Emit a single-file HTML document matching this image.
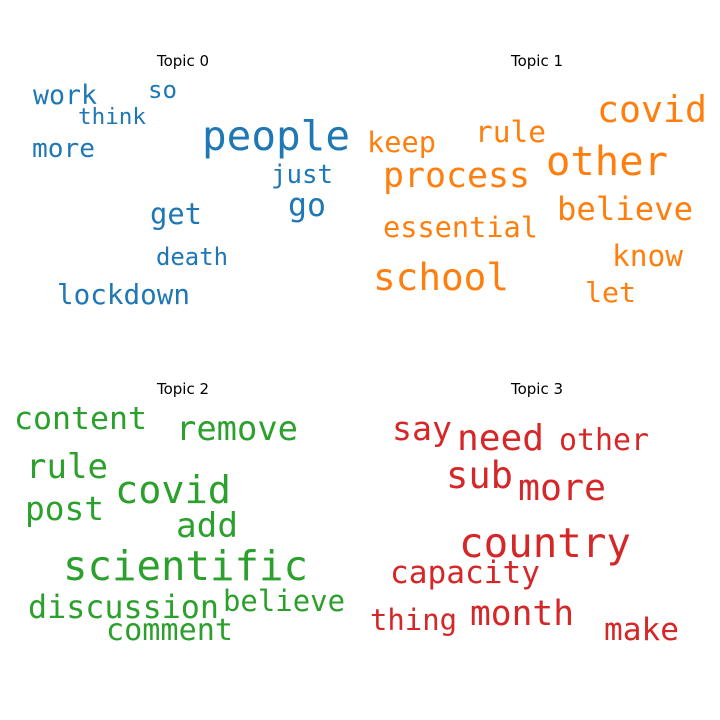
<!DOCTYPE html>
<html><head><meta charset="utf-8"><style>
html,body{margin:0;padding:0;background:#fff;}
svg{display:block;}
.w{font-family:"DejaVu Sans Mono","Liberation Mono",monospace;}
.t{font-family:"DejaVu Sans","Liberation Sans",sans-serif;font-size:15px;fill:#000;}
.b{fill:#1f77b4}.o{fill:#ff7f0e}.g{fill:#2ca02c}.r{fill:#d62728}
</style></head><body>
<svg width="720" height="720" viewBox="0 0 720 720" xmlns="http://www.w3.org/2000/svg">
<rect width="720" height="720" fill="#fff"/>
<text class="t" x="183" y="66" text-anchor="middle">Topic 0</text>
<text class="t" x="537" y="66" text-anchor="middle">Topic 1</text>
<text class="t" x="183" y="394" text-anchor="middle">Topic 2</text>
<text class="t" x="537" y="394" text-anchor="middle">Topic 3</text>
<g class="w">
<text class="b" x="202" y="150" font-size="41" textLength="148" lengthAdjust="spacingAndGlyphs">people</text>
<text class="b" x="33" y="104" font-size="26.5" textLength="64" lengthAdjust="spacingAndGlyphs">work</text>
<text class="b" x="148" y="98" font-size="24" textLength="29" lengthAdjust="spacingAndGlyphs">so</text>
<text class="b" x="78" y="124" font-size="22.6" textLength="68" lengthAdjust="spacingAndGlyphs">think</text>
<text class="b" x="32" y="157" font-size="26" textLength="63" lengthAdjust="spacingAndGlyphs">more</text>
<text class="b" x="271" y="183" font-size="26" textLength="62" lengthAdjust="spacingAndGlyphs">just</text>
<text class="b" x="288" y="216" font-size="32" textLength="38" lengthAdjust="spacingAndGlyphs">go</text>
<text class="b" x="150" y="224" font-size="29" textLength="52" lengthAdjust="spacingAndGlyphs">get</text>
<text class="b" x="156" y="265" font-size="24" textLength="72" lengthAdjust="spacingAndGlyphs">death</text>
<text class="b" x="57" y="304" font-size="27.6" textLength="133" lengthAdjust="spacingAndGlyphs">lockdown</text>

<text class="o" x="597" y="122" font-size="36.5" textLength="110" lengthAdjust="spacingAndGlyphs">covid</text>
<text class="o" x="367" y="152" font-size="28.6" textLength="69" lengthAdjust="spacingAndGlyphs">keep</text>
<text class="o" x="475" y="142" font-size="29.5" textLength="71" lengthAdjust="spacingAndGlyphs">rule</text>
<text class="o" x="546" y="175" font-size="40.5" textLength="122" lengthAdjust="spacingAndGlyphs">other</text>
<text class="o" x="383" y="187" font-size="35" textLength="147" lengthAdjust="spacingAndGlyphs">process</text>
<text class="o" x="557" y="220" font-size="32" textLength="136" lengthAdjust="spacingAndGlyphs">believe</text>
<text class="o" x="383" y="237" font-size="28.6" textLength="155" lengthAdjust="spacingAndGlyphs">essential</text>
<text class="o" x="612" y="266" font-size="29.5" textLength="71" lengthAdjust="spacingAndGlyphs">know</text>
<text class="o" x="373" y="290" font-size="37.6" textLength="136" lengthAdjust="spacingAndGlyphs">school</text>
<text class="o" x="585" y="302" font-size="28" textLength="51" lengthAdjust="spacingAndGlyphs">let</text>

<text class="g" x="14" y="429" font-size="31.5" textLength="133" lengthAdjust="spacingAndGlyphs">content</text>
<text class="g" x="176" y="440" font-size="33.8" textLength="122" lengthAdjust="spacingAndGlyphs">remove</text>
<text class="g" x="26" y="478" font-size="34" textLength="82" lengthAdjust="spacingAndGlyphs">rule</text>
<text class="g" x="115" y="503" font-size="38.5" textLength="116" lengthAdjust="spacingAndGlyphs">covid</text>
<text class="g" x="25" y="520" font-size="32.8" textLength="79" lengthAdjust="spacingAndGlyphs">post</text>
<text class="g" x="176" y="537" font-size="34" textLength="62" lengthAdjust="spacingAndGlyphs">add</text>
<text class="g" x="63" y="580" font-size="40.7" textLength="245" lengthAdjust="spacingAndGlyphs">scientific</text>
<text class="g" x="28" y="618" font-size="31.7" textLength="191" lengthAdjust="spacingAndGlyphs">discussion</text>
<text class="g" x="223" y="611" font-size="29" textLength="122" lengthAdjust="spacingAndGlyphs">believe</text>
<text class="g" x="106" y="640" font-size="30" textLength="127" lengthAdjust="spacingAndGlyphs">comment</text>

<text class="r" x="392" y="440" font-size="33" textLength="60" lengthAdjust="spacingAndGlyphs">say</text>
<text class="r" x="457" y="450" font-size="36" textLength="87" lengthAdjust="spacingAndGlyphs">need</text>
<text class="r" x="559" y="450" font-size="30" textLength="90" lengthAdjust="spacingAndGlyphs">other</text>
<text class="r" x="446" y="488" font-size="37" textLength="67" lengthAdjust="spacingAndGlyphs">sub</text>
<text class="r" x="518" y="500" font-size="36.5" textLength="88" lengthAdjust="spacingAndGlyphs">more</text>
<text class="r" x="459" y="557" font-size="40.8" textLength="172" lengthAdjust="spacingAndGlyphs">country</text>
<text class="r" x="390" y="583" font-size="31" textLength="150" lengthAdjust="spacingAndGlyphs">capacity</text>
<text class="r" x="470" y="625" font-size="34.5" textLength="104" lengthAdjust="spacingAndGlyphs">month</text>
<text class="r" x="370" y="630" font-size="29" textLength="87" lengthAdjust="spacingAndGlyphs">thing</text>
<text class="r" x="604" y="640" font-size="31" textLength="75" lengthAdjust="spacingAndGlyphs">make</text>
</g>
</svg>
</body></html>
